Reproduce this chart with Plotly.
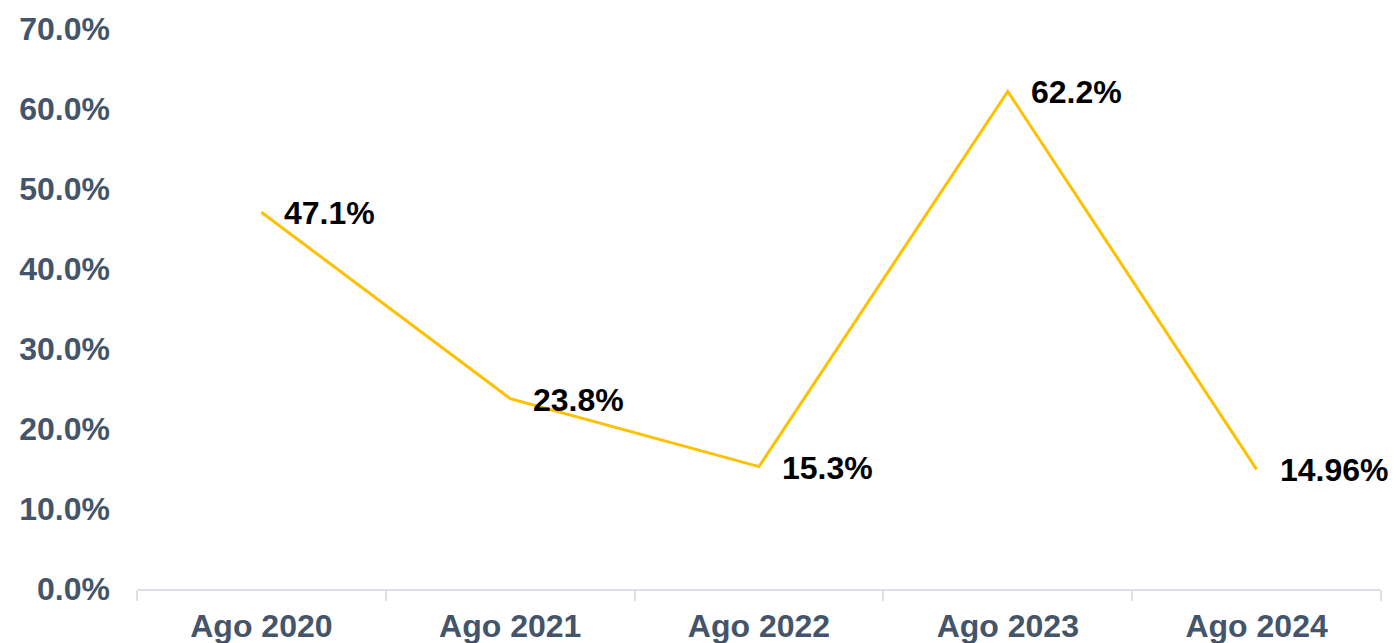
import plotly.graph_objects as go

categories = ["Ago 2020", "Ago 2021", "Ago 2022", "Ago 2023", "Ago 2024"]
values = [47.1, 23.8, 15.3, 62.2, 14.96]
labels = ["47.1%", "23.8%", "15.3%", "62.2%", "14.96%"]
y_ticks = [0, 10, 20, 30, 40, 50, 60, 70]
y_tick_text = ["0.0%", "10.0%", "20.0%", "30.0%", "40.0%", "50.0%", "60.0%", "70.0%"]

font_family = "Liberation Sans, Arial, sans-serif"
axis_color = "#44546A"
fsize = 32

fig = go.Figure()
fig.add_trace(go.Scatter(
    x=categories, y=values, mode="lines",
    line=dict(color="#FFC000", width=3),
    hoverinfo="skip", showlegend=False,
))

for c, v, t in zip(categories, values, labels):
    fig.add_annotation(
        x=c, y=v, text=f"<b>{t}</b>", showarrow=False,
        xanchor="left", yanchor="middle", xshift=21, yshift=-1,
        font=dict(family=font_family, size=fsize, color="#000000"),
    )

fig.update_layout(
    width=1396, height=643,
    margin=dict(l=129, r=23, t=21, b=62, autoexpand=False),
    plot_bgcolor="white", paper_bgcolor="white",
    font=dict(family=font_family, size=fsize, color=axis_color),
)
fig.update_xaxes(
    type="category", tickson="boundaries", ticks="outside", ticklen=10,
    range=[-0.5, 4.5], automargin=False,
    tickcolor="#DCE0E6", tickwidth=2,
    showline=True, linecolor="#DCE0E6", linewidth=2,
    showgrid=False, zeroline=False,
    tickfont=dict(family=font_family, size=fsize, color=axis_color),
    ticklabelstandoff=8,
    tickprefix="<b>", ticksuffix="</b>",
)
fig.update_yaxes(
    range=[0, 70], tickvals=y_ticks, ticktext=[f"<b>{t}</b>" for t in y_tick_text],
    showgrid=False, zeroline=False, showline=False, ticks="", automargin=False,
    tickfont=dict(family=font_family, size=fsize, color=axis_color),
    ticklabelstandoff=26,
)

fig.write_html("out.html")
